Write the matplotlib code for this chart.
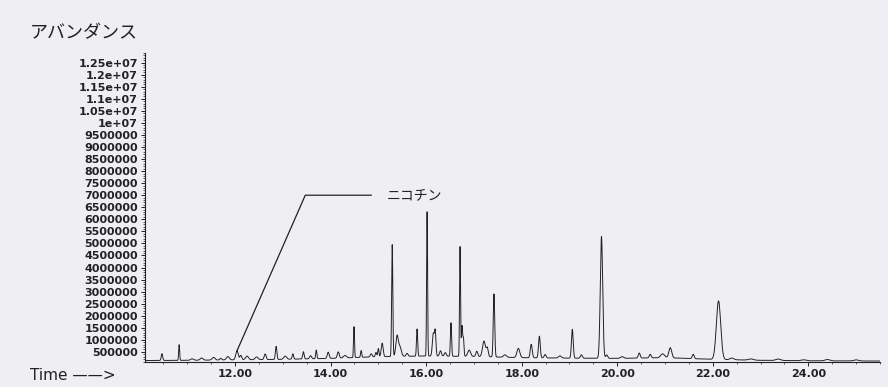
import numpy as np
import matplotlib.pyplot as plt
from matplotlib.ticker import MultipleLocator, FixedLocator

# peaks: retention time (min), height above baseline, width (sigma, min)
peak_time = [10.47, 10.83, 11.10, 11.30, 11.55, 11.70, 11.85, 12.04, 12.12, 12.25,
             12.45, 12.63, 12.86, 13.05, 13.21, 13.43, 13.58, 13.70, 13.95, 14.16,
             14.30, 14.49, 14.64, 14.85, 14.95, 15.00, 15.08, 15.29, 15.39, 15.45,
             15.60, 15.81, 16.02, 16.15, 16.19, 16.30, 16.40, 16.52, 16.71, 16.75,
             16.78, 16.90, 17.06, 17.21, 17.28, 17.42, 17.65, 17.93, 18.20, 18.37,
             18.49, 18.80, 19.06, 19.25, 19.67, 19.78, 20.10, 20.46, 20.69, 20.95,
             21.11, 21.59, 22.12, 22.40, 22.80, 23.37, 23.90, 24.40, 25.00]
peak_height = [280e3, 650e3, 60e3, 90e3, 110e3, 70e3, 140e3, 380e3, 180e3, 150e3,
               110e3, 230e3, 540e3, 130e3, 220e3, 300e3, 130e3, 360e3, 260e3, 260e3,
               100e3, 1.29e6, 280e3, 130e3, 180e3, 340e3, 560e3, 4.66e6, 830e3, 400e3,
               120e3, 1.13e6, 6.00e6, 930e3, 980e3, 220e3, 150e3, 1.39e6, 4.58e6, 1.25e6,
               750e3, 260e3, 220e3, 650e3, 360e3, 2.62e6, 100e3, 380e3, 560e3, 900e3,
               140e3, 90e3, 1.20e6, 140e3, 5.05e6, 140e3, 70e3, 210e3, 150e3, 160e3,
               420e3, 180e3, 2.43e6, 70e3, 50e3, 60e3, 40e3, 55e3, 45e3]
peak_width = [0.015, 0.010, 0.03, 0.03, 0.03, 0.02, 0.03, 0.025, 0.02, 0.03,
              0.03, 0.02, 0.015, 0.03, 0.015, 0.015, 0.02, 0.012, 0.02, 0.02,
              0.03, 0.010, 0.012, 0.02, 0.015, 0.012, 0.02, 0.012, 0.025, 0.03,
              0.02, 0.012, 0.010, 0.020, 0.015, 0.02, 0.02, 0.012, 0.010, 0.012,
              0.012, 0.03, 0.02, 0.03, 0.02, 0.015, 0.03, 0.03, 0.020, 0.018,
              0.02, 0.03, 0.018, 0.02, 0.025, 0.02, 0.03, 0.02, 0.02, 0.04,
              0.03, 0.02, 0.045, 0.04, 0.05, 0.05, 0.05, 0.05, 0.05]

# baseline level read at a few times
base_time = [10.12, 11.0, 12.0, 13.0, 14.0, 15.0, 16.0, 17.0, 18.0, 19.0, 20.0, 21.0, 22.0, 23.0, 24.0, 25.5]
base_level = [140e3, 150e3, 170e3, 190e3, 230e3, 300e3, 330e3, 310e3, 260e3, 240e3, 230e3, 260e3, 190e3, 150e3, 130e3, 120e3]

y_ticks = [500000, 1000000, 1500000, 2000000, 2500000, 3000000, 3500000, 4000000,
           4500000, 5000000, 5500000, 6000000, 6500000, 7000000, 7500000, 8000000,
           8500000, 9000000, 9500000, 10000000, 10500000, 11000000, 11500000,
           12000000, 12500000]
y_labels = ['500000', '1000000', '1500000', '2000000', '2500000', '3000000', '3500000',
            '4000000', '4500000', '5000000', '5500000', '6000000', '6500000', '7000000',
            '7500000', '8000000', '8500000', '9000000', '9500000', '1e+07', '1.05e+07',
            '1.1e+07', '1.15e+07', '1.2e+07', '1.25e+07']
x_ticks = [12, 14, 16, 18, 20, 22, 24]
x_labels = ['12.00', '14.00', '16.00', '18.00', '20.00', '22.00', '24.00']

nicotine_time = 12.04
nicotine_height = 540e3
label_text = 'ニコチン'

bg = '#efeef3'
ink = '#222222'


def main():
    t = np.linspace(10.12, 25.5, 6000)
    signal = np.interp(t, base_time, base_level)
    for rt, h, w in zip(peak_time, peak_height, peak_width):
        signal = signal + h * np.exp(-0.5 * ((t - rt) / w) ** 2)

    fig = plt.figure(figsize=(8.88, 3.87), dpi=100, facecolor=bg)
    ax = fig.add_axes([145 / 888, 25 / 387, 735 / 888, 309 / 387])
    ax.set_facecolor(bg)
    ax.plot(t, signal, color=ink, lw=0.7)

    ax.set_xlim(10.115, 25.5)
    ax.set_ylim(80e3, 12.9e6)
    for side in ['top', 'right']:
        ax.spines[side].set_visible(False)
    for side in ['left', 'bottom']:
        ax.spines[side].set_linewidth(0.8)
        ax.spines[side].set_color(ink)

    ax.yaxis.set_major_locator(FixedLocator(y_ticks))
    ax.set_yticklabels(y_labels)
    ax.yaxis.set_minor_locator(MultipleLocator(100000))
    ax.xaxis.set_major_locator(FixedLocator(x_ticks))
    ax.set_xticklabels(x_labels)
    ax.xaxis.set_minor_locator(MultipleLocator(0.5))
    ax.tick_params(axis='both', which='major', length=3, width=0.7, color=ink,
                   labelsize=8, labelcolor=ink, pad=2)
    ax.tick_params(axis='both', which='minor', length=1.5, width=0.5, color=ink)
    for lab in ax.get_xticklabels() + ax.get_yticklabels():
        lab.set_fontweight('bold')

    # nicotine leader line
    ax.plot([nicotine_time, 13.47, 14.85], [nicotine_height, 7.0e6, 7.0e6],
            color=ink, lw=0.9, clip_on=False)
    ax.text(15.18, 7.0e6, label_text, fontsize=10, color=ink, va='center',
            family=['Noto Sans CJK JP', 'DejaVu Sans'])

    fig.text(30 / 888, 1 - 33 / 387, 'アバンダンス', fontsize=13, color=ink,
             va='center', family=['Noto Sans CJK JP', 'DejaVu Sans'])
    fig.text(30 / 888, 1 - 375 / 387, 'Time ——>', fontsize=11, color=ink,
             va='center', family=['DejaVu Sans'])

    fig.savefig('out.png', dpi=100, facecolor=bg)


if __name__ == '__main__':
    main()
